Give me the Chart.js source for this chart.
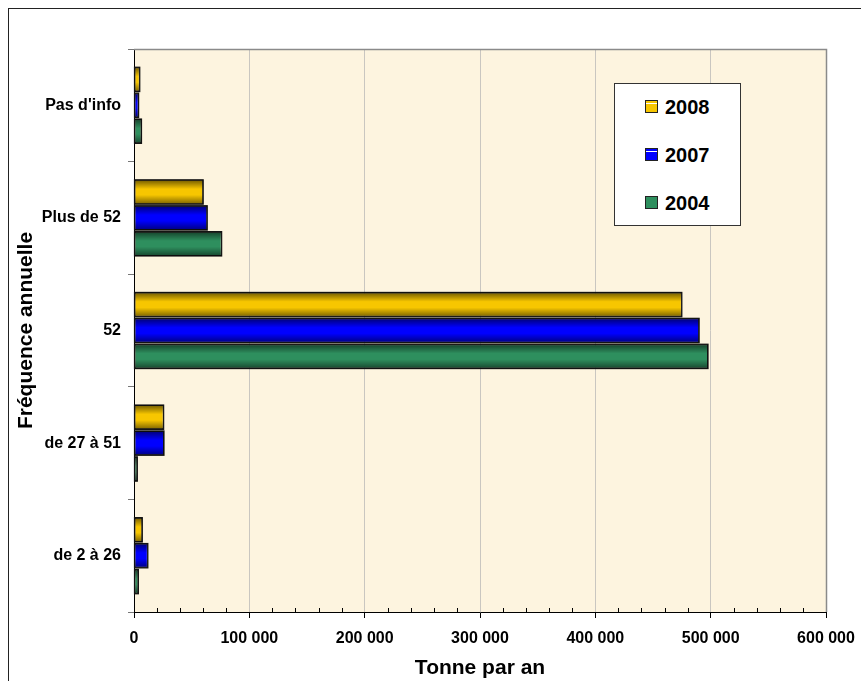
<!DOCTYPE html>
<html lang="fr">
<head>
<meta charset="utf-8">
<title>Fréquence annuelle – Tonne par an</title>
<script src="https://cdn.jsdelivr.net/npm/chart.js@4/dist/chart.umd.min.js"></script>
<style>
  html, body { margin: 0; padding: 0; background: #fff; overflow: hidden; }
  #wrap { position: relative; width: 861px; height: 681px; overflow: hidden; }
  #frame { position: absolute; left: 8px; top: 8px; width: 900px; height: 700px;
           border: 1px solid #222; box-sizing: border-box; pointer-events: none; }
  #chart { position: absolute; left: 0; top: 0; }
  #legend { position: absolute; left: 614px; top: 83px; width: 127px; height: 143px;
            box-sizing: border-box; border: 1px solid #333; background: #fff;
            font-family: "Liberation Sans", Arial, sans-serif; font-weight: bold; font-size: 20px; }
  .item { position: absolute; left: 30px; height: 24px; line-height: 24px; white-space: nowrap; }
  .sw { position: absolute; left: 0; top: 5px; width: 13px; height: 13px; box-sizing: border-box;
        border: 1px solid #222; }
  .lbl { position: absolute; left: 20px; top: 0; color: #000; }
</style>
</head>
<body>
<div id="wrap">
  <canvas id="chart" width="861" height="681"></canvas>
  <div id="legend"></div>
  <div id="frame"></div>
</div>
<script>
// Tonnage per year, by annual frequency class
const categories = ["Pas d'info", "Plus de 52", "52", "de 27 à 51", "de 2 à 26"];
const seriesNames = ["2008", "2007", "2004"];
const values2008 = [5000, 60000, 475000, 25700, 7200];
const values2007 = [4000, 63500, 490000, 26000, 12000];
const values2004 = [6500, 76000, 497700, 2900, 3800];
const xTicks = [0, 100000, 200000, 300000, 400000, 500000, 600000];

const seriesColors = ["#F7C600", "#0000FF", "#2E8F5E"];
const seriesValues = [values2008, values2007, values2004];

const fmt = v => String(v).replace(/\B(?=(\d{3})+(?!\d))/g, " ");
const FONT = "'Liberation Sans', Arial, sans-serif";

// Cream plot background with a gray top/right edge
const plotBackground = {
  id: "plotBackground",
  beforeDraw(chart) {
    const { ctx, chartArea: a } = chart;
    ctx.save();
    ctx.fillStyle = "#FDF4DF";
    ctx.fillRect(a.left, a.top, a.right - a.left, a.bottom - a.top);
    ctx.restore();
  },
  afterDraw(chart) {
    const { ctx, chartArea: a } = chart;
    ctx.save();
    ctx.strokeStyle = "#8a8a8a";
    ctx.lineWidth = 1.5;
    ctx.beginPath();
    ctx.moveTo(a.left, a.top + 0.5);
    ctx.lineTo(a.right + 0.5, a.top + 0.5);
    ctx.lineTo(a.right + 0.5, a.bottom);
    ctx.stroke();
    ctx.restore();
  }
};

// Rounded shading on each bar: darker along the long edges
const barShading = {
  id: "barShading",
  afterDatasetsDraw(chart) {
    const ctx = chart.ctx;
    chart.data.datasets.forEach((ds, i) => {
      const meta = chart.getDatasetMeta(i);
      meta.data.forEach(el => {
        const { x, y, base, height } = el.getProps(["x", "y", "base", "height"], true);
        const left = Math.min(base, x), right = Math.max(base, x);
        const top = y - height / 2;
        const g = ctx.createLinearGradient(0, top, 0, top + height);
        g.addColorStop(0, "rgba(0,0,0,0.55)");
        g.addColorStop(0.38, "rgba(0,0,0,0)");
        g.addColorStop(0.62, "rgba(0,0,0,0)");
        g.addColorStop(1, "rgba(0,0,0,0.5)");
        ctx.save();
        ctx.fillStyle = g;
        ctx.fillRect(left, top, right - left, height);
        ctx.strokeStyle = "#111";
        ctx.lineWidth = 1.2;
        ctx.strokeRect(left, top, right - left, height);
        ctx.restore();
      });
    });
  }
};

// Minor ticks on the value axis every 20 000
const minorTicks = {
  id: "minorTicks",
  afterDraw(chart) {
    const { ctx } = chart;
    const xs = chart.scales.x;
    const yb = chart.chartArea.bottom;
    ctx.save();
    ctx.strokeStyle = "#000";
    ctx.lineWidth = 1;
    ctx.beginPath();
    for (let v = 20000; v < 600000; v += 20000) {
      if (v % 100000 === 0) continue;
      const px = Math.round(xs.getPixelForValue(v)) + 0.5;
      ctx.moveTo(px, yb - 4);
      ctx.lineTo(px, yb);
    }
    ctx.stroke();
    ctx.restore();
  }
};

const datasets = seriesNames.map((name, i) => ({
  label: name,
  data: seriesValues[i],
  backgroundColor: seriesColors[i],
  borderColor: "#111",
  borderWidth: 1,
  borderSkipped: false,
  categoryPercentage: 0.69,
  barPercentage: 0.94
}));

new Chart(document.getElementById("chart"), {
  type: "bar",
  data: { labels: categories, datasets },
  plugins: [plotBackground, barShading, minorTicks],
  options: {
    indexAxis: "y",
    responsive: false,
    animation: false,
    layout: { padding: { left: 0, top: 49, right: 35, bottom: 0 } },
    plugins: { legend: { display: false }, tooltip: { enabled: false } },
    scales: {
      x: {
        min: 0,
        max: 600000,
        afterBuildTicks: s => { s.ticks = xTicks.map(v => ({ value: v })); },
        afterFit: s => { s.height = 69; s.paddingLeft = 0; s.paddingRight = 0; },
        grid: { color: "#c9c6c0", lineWidth: 1, tickColor: "#000", tickLength: 6 },
        border: { color: "#000", width: 1 },
        ticks: {
          color: "#000",
          padding: 11,
          font: { family: FONT, size: 16, weight: "bold" },
          callback: v => fmt(v)
        },
        title: {
          display: true,
          text: "Tonne par an",
          color: "#000",
          padding: { top: 0, bottom: 0 },
          font: { family: FONT, size: 21, weight: "bold" }
        }
      },
      y: {
        afterFit: s => { s.width = 134; },
        grid: { drawOnChartArea: false, tickColor: "#777", tickLength: 6, offset: true },
        border: { color: "#000", width: 1 },
        ticks: {
          color: "#000",
          padding: 7,
          font: { family: FONT, size: 16, weight: "bold" }
        },
        title: {
          display: true,
          text: "Fréquence annuelle",
          color: "#000",
          padding: { top: 14, bottom: 0 },
          font: { family: FONT, size: 21, weight: "bold" }
        }
      }
    }
  }
});

// Legend box
const legend = document.getElementById("legend");
seriesNames.forEach((name, i) => {
  const item = document.createElement("div");
  item.className = "item";
  item.style.top = (11 + i * 48) + "px";
  const sw = document.createElement("span");
  sw.className = "sw";
  sw.style.background = i < 2
    ? `linear-gradient(${seriesColors[i]} 0 2px, #fff 2px 3px, ${seriesColors[i]} 3px)`
    : seriesColors[i];
  const lbl = document.createElement("span");
  lbl.className = "lbl";
  lbl.textContent = name;
  item.appendChild(sw);
  item.appendChild(lbl);
  legend.appendChild(item);
});
</script>
</body>
</html>
